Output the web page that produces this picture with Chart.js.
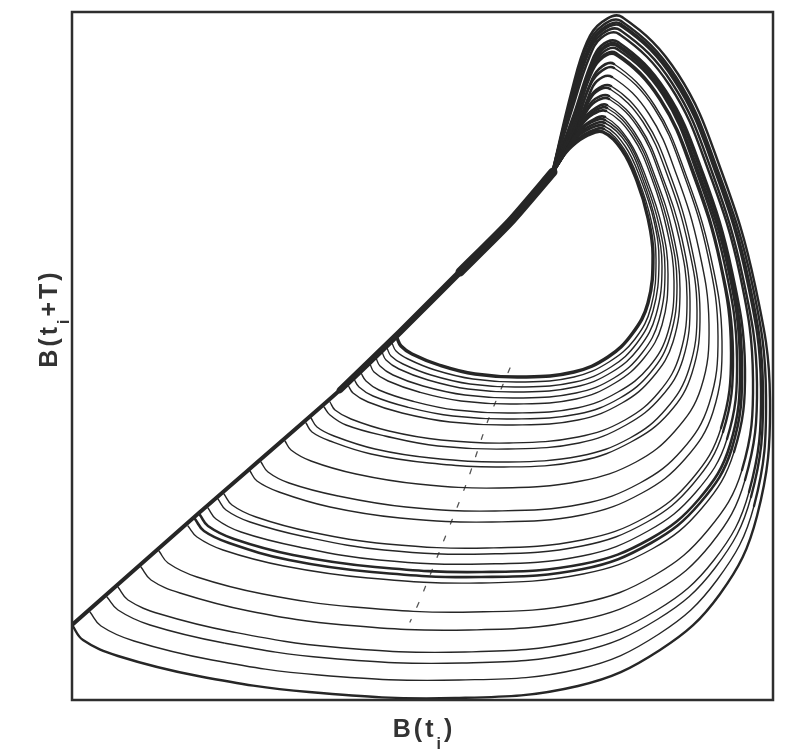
<!DOCTYPE html>
<html>
<head>
<meta charset="utf-8">
<script src="https://cdn.jsdelivr.net/npm/chart.js@4.4.1/dist/chart.umd.min.js"></script>
<style>
  html, body { margin: 0; padding: 0; background: #fff; }
</style>
</head>
<body>
<canvas id="attractor" width="786" height="755"></canvas>
<script>
// Orbits of the attractor, each a flat list x0,y0,x1,y1,... in arbitrary units
// (x runs 0..701, y runs 0..688). Every orbit leaves the fold, sweeps round the
// bottom, climbs the right side, tops the peak and drops back onto the fold.
const innerOrbits = [
  [325,362, 329,354, 340,346, 367,335, 403,326, 451,323, 502,328, 536,343, 560,366, 576,397, 581,445, 576,482, 565,519, 550,550, 531,568, 516,565, 500,554, 488,540, 480,526],
  [320,357, 324,349, 336,341, 363,330, 401,321, 450,318, 502,323, 537,338, 563,361, 579,393, 584,441, 579,480, 567,519, 552,551, 532,571, 517,568, 501,557, 489,542, 480,526],
  [315,352, 319,344, 331,336, 359,325, 398,316, 449,313, 503,318, 539,333, 565,357, 581,389, 587,438, 582,479, 569,520, 553,554, 532,574, 517,571, 502,560, 490,543, 480,526],
  [310,348, 314,340, 327,331, 356,320, 396,311, 448,308, 503,313, 540,328, 567,352, 584,385, 590,434, 584,477, 571,520, 555,556, 533,577, 518,574, 504,563, 491,545, 480,526],
  [304,342, 308,334, 321,325, 351,314, 393,305, 447,302, 504,307, 542,322, 570,347, 587,380, 593,430, 587,475, 573,520, 556,558, 533,580, 518,577, 505,566, 492,546, 480,526],
  [298,336, 302,328, 316,319, 347,308, 389,299, 445,296, 504,301, 543,317, 572,342, 590,375, 596,426, 590,473, 575,520, 557,559, 533,583, 519,579, 506,568, 493,548, 480,526],
  [289,327, 294,319, 307,310, 340,299, 384,290, 443,287, 505,292, 546,308, 577,333, 596,368, 602,419, 595,470, 580,521, 560,564, 534,589, 520,585, 509,574, 495,551, 480,526],
  [282,321, 287,313, 301,304, 335,293, 381,284, 442,281, 506,286, 548,302, 579,328, 598,363, 605,415, 598,468, 582,521, 562,565, 535,592, 521,588, 510,577, 496,552, 480,526],
  [276,315, 281,307, 296,298, 330,287, 378,278, 441,275, 506,280, 550,297, 581,323, 601,358, 608,411, 601,466, 584,521, 563,567, 535,595, 522,591, 511,580, 497,554, 480,526]
];

const middleOrbits = [
  [258,298, 263,290, 279,281, 317,269, 369,260, 437,257, 506,263, 553,280, 587,308, 608,346, 615,403, 607,462, 589,522, 567,571, 537,601, 523,598, 513,586, 499,557, 480,526],
  [252,293, 258,285, 274,275, 313,264, 366,254, 436,251, 507,257, 554,275, 589,303, 611,341, 618,399, 610,461, 591,522, 568,573, 537,604, 523,601, 513,588, 499,558, 480,526],
  [239,282, 245,273, 262,264, 303,251, 359,242, 433,238, 508,244, 558,262, 594,291, 617,331, 625,390, 616,456, 596,523, 571,578, 538,611, 524,608, 514,593, 500,560, 480,526],
  [234,277, 240,268, 258,259, 299,246, 357,237, 432,233, 508,239, 559,258, 597,287, 620,327, 628,387, 619,455, 599,523, 573,580, 539,614, 524,610, 514,595, 500,561, 480,526],
  [213,259, 219,250, 239,239, 284,226, 346,216, 427,212, 509,219, 564,238, 603,269, 629,312, 637,376, 627,450, 605,524, 577,586, 540,623, 525,619, 516,602, 502,564, 480,526],
  [189,238, 196,228, 217,217, 266,204, 334,193, 423,189, 510,196, 568,217, 610,250, 637,296, 646,364, 636,444, 612,525, 582,592, 542,632, 527,627, 516,610, 502,569, 480,526],
  [178,229, 185,219, 207,208, 258,193, 328,182, 420,178, 510,185, 570,207, 613,241, 641,288, 650,359, 639,442, 614,525, 583,594, 542,636, 527,631, 517,613, 502,571, 480,526],
  [152,206, 160,195, 184,183, 239,168, 315,156, 415,152, 510,160, 574,183, 620,221, 649,272, 659,348, 648,437, 621,526, 588,600, 544,645, 528,640, 517,621, 502,576, 480,526],
  [146,201, 154,190, 178,178, 234,163, 312,150, 414,146, 510,154, 575,178, 621,216, 651,268, 661,346, 649,436, 622,527, 588,602, 544,647, 528,642, 517,623, 502,577, 480,526],
  [136,192, 144,181, 169,168, 227,153, 307,140, 411,136, 510,144, 576,169, 624,208, 655,261, 665,341, 653,434, 625,527, 591,605, 545,651, 529,646, 518,627, 502,580, 480,526]
];

const outerOrbits = [
  [128,185, 136,174, 162,161, 221,145, 303,133, 410,128, 511,136, 578,161, 627,201, 658,255, 668,337, 656,432, 627,527, 592,606, 545,654, 529,649, 518,629, 502,582, 480,526],
  [123,181, 132,169, 157,157, 217,140, 300,128, 409,123, 511,131, 579,157, 628,197, 660,252, 670,335, 658,431, 629,528, 593,608, 545,656, 529,651, 518,631, 502,583, 480,526],
  [116,174, 125,163, 151,150, 212,134, 296,122, 407,117, 511,126, 580,151, 630,192, 662,248, 673,331, 660,429, 631,527, 594,609, 546,658, 529,654, 518,634, 502,586, 480,526],
  [87,149, 96,137, 125,123, 191,106, 282,93, 401,88, 510,97, 583,125, 636,170, 670,230, 681,321, 668,425, 637,528, 598,614, 547,666, 529,662, 517,642, 501,594, 480,526],
  [69,133, 79,120, 108,107, 177,89, 272,75, 397,70, 509,80, 584,109, 639,156, 673,220, 685,316, 671,422, 640,528, 600,617, 548,670, 530,666, 516,646, 501,598, 480,526],
  [46,113, 56,100, 88,86, 161,68, 261,53, 393,48, 508,59, 585,90, 642,140, 677,208, 689,311, 675,420, 643,529, 602,620, 549,674, 530,669, 516,649, 501,601, 480,526],
  [35,103, 46,90, 78,75, 152,57, 255,42, 390,37, 507,48, 586,81, 643,132, 679,203, 691,309, 677,419, 644,529, 603,621, 549,676, 530,671, 516,651, 500,603, 480,526],
  [18,88, 29,74, 62,59, 140,40, 247,25, 387,20, 507,31, 587,66, 645,120, 682,194, 694,305, 680,417, 646,529, 604,623, 549,679, 530,674, 515,654, 500,606, 480,526],
  [0,75, 11,60, 46,44, 126,24, 237,8, 383,2, 506,14, 588,50, 648,106, 685,184, 698,300, 683,415, 649,530, 606,626, 550,683, 530,678, 515,658, 500,610, 480,526]
];

// the fold: the straight edge every orbit runs down before peeling off
const foldLine = [0,75, 128,188, 268,310, 328,368, 388,428, 438,478, 481,528];
const foldUpper = [268,310, 328,368, 388,428, 438,478, 481,528];
const foldTop = [388,428, 438,478, 481,528];

// dotted section line through the arcs
const sectionLine = [438,332, 415,277, 395,218, 370,155, 348,100, 338,78];

const xTitle = ['B(t', 'i', ')'];
const yTitle = ['B(t', 'i', '+T)'];

const ink = '#262626';

function toPoints(flat) {
  const pts = [];
  for (let i = 0; i < flat.length; i += 2) {
    pts.push({ x: flat[i], y: flat[i + 1] });
  }
  return pts;
}

function lineSet(flat, width, extra) {
  return Object.assign({
    data: toPoints(flat),
    showLine: true,
    borderColor: ink,
    borderWidth: width,
    pointRadius: 0,
    fill: false,
    tension: 0.4,
    borderJoinStyle: 'round',
    borderCapStyle: 'round'
  }, extra || {});
}

// orbit points: 0-5 fold to bottom, 6-10 lower right, 11-14 up to the peak, 15-18 back to the fold
function orbitSet(flat, width, inBand) {
  return lineSet(flat, width, {
    segment: {
      borderWidth: function (ctx) {
        const i = ctx.p0DataIndex;
        if (i >= 14) return Math.max(width, 2.6);
        if (inBand && i >= 9) return Math.max(width, 2.4);
        return width;
      }
    }
  });
}

// a few orbits are drawn heavier, as in the plotted trace
const heavy = { 0: 3.4, 19: 2.6, 20: 2.6, 27: 2.4 };

const datasets = [];
datasets.push(lineSet(foldLine, 4, { tension: 0.2 }));
datasets.push(lineSet(foldUpper, 6.5, { tension: 0.2 }));
datasets.push(lineSet(foldTop, 9, { tension: 0.2 }));
innerOrbits.concat(middleOrbits, outerOrbits).forEach(function (orbit, k) {
  datasets.push(orbitSet(orbit, heavy[k] || 1.4, k >= 16));
});
datasets.push(lineSet(sectionLine, 1.3, { borderColor: '#555', borderDash: [5, 13], tension: 0.2 }));

// draws glyph by glyph with a little tracking; the middle part is a subscript
function drawTitle(ctx, parts, cx, baseline) {
  const big = 'bold 25px "Liberation Sans", Arial, sans-serif';
  const small = 'bold 16px "Liberation Sans", Arial, sans-serif';
  const gap = 3;
  const runs = [];
  parts.forEach(function (text, idx) {
    const font = idx === 1 ? small : big;
    const dy = idx === 1 ? 12 : 0;
    ctx.font = font;
    for (const ch of text) {
      runs.push({ ch: ch, font: font, dy: dy, w: ctx.measureText(ch).width });
    }
  });
  let total = 0;
  runs.forEach(function (r) { total += r.w + gap; });
  total -= gap;
  let x = cx - total / 2;
  ctx.textAlign = 'left';
  ctx.textBaseline = 'alphabetic';
  runs.forEach(function (r) {
    ctx.font = r.font;
    ctx.fillText(r.ch, x, baseline + r.dy);
    x += r.w + gap;
  });
}

const frameAndTitles = {
  id: 'frameAndTitles',
  afterDraw(chart) {
    const ctx = chart.ctx;
    const a = chart.chartArea;
    ctx.save();
    ctx.strokeStyle = '#2e2e2e';
    ctx.lineWidth = 2.5;
    ctx.strokeRect(a.left, a.top, a.right - a.left, a.bottom - a.top);
    ctx.fillStyle = '#333';
    drawTitle(ctx, xTitle, (a.left + a.right) / 2, a.bottom + 37);
    ctx.translate(a.left - 15, a.top + 308);
    ctx.rotate(-Math.PI / 2);
    drawTitle(ctx, yTitle, 0, 0);
    ctx.restore();
  }
};

new Chart(document.getElementById('attractor'), {
  type: 'scatter',
  data: { datasets: datasets },
  options: {
    responsive: false,
    animation: false,
    layout: { padding: { left: 72, right: 13, top: 12, bottom: 55 } },
    scales: {
      x: { type: 'linear', min: 0, max: 701, display: false },
      y: { type: 'linear', min: 0, max: 688, display: false }
    },
    plugins: {
      legend: { display: false },
      tooltip: { enabled: false }
    }
  },
  plugins: [frameAndTitles]
});
</script>
</body>
</html>
